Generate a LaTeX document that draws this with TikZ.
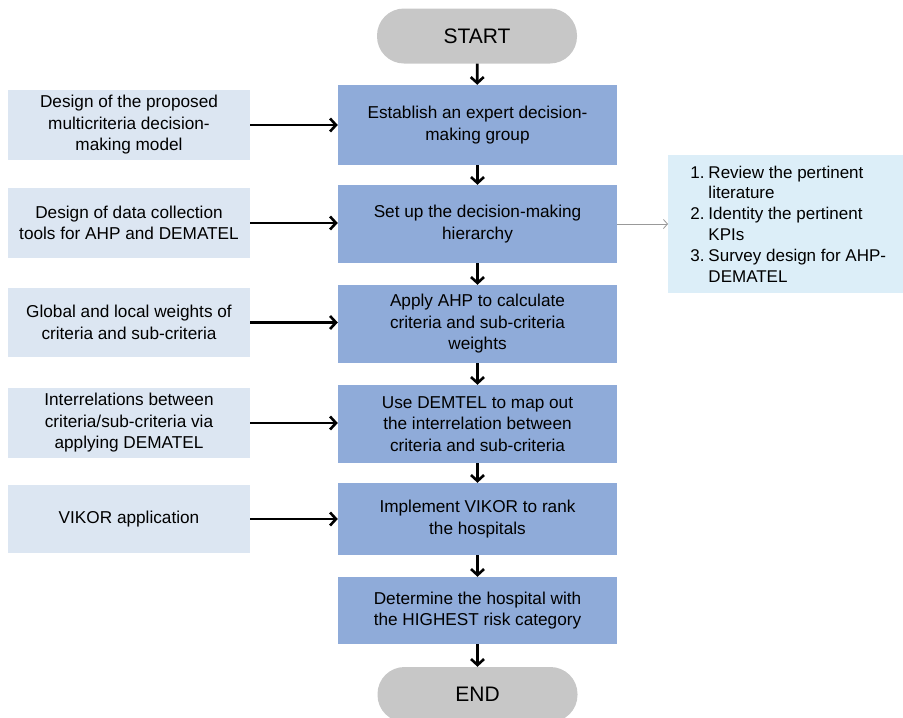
\documentclass[tikz,border=0pt]{standalone}
\usepackage{fontspec}
\setmainfont{Liberation Sans}
\usetikzlibrary{arrows.meta}
\definecolor{mainblue}{HTML}{8FABD9}
\definecolor{leftblue}{HTML}{DCE6F2}
\definecolor{rightblue}{HTML}{DCEEF8}
\definecolor{pillgray}{HTML}{C7C7C7}
\newcommand{\numgap}{\hspace{4pt}}
\begin{document}
\begin{tikzpicture}[x=1pt,y=-1pt,
  font=\fontsize{17.2}{21.5}\selectfont,
  pill/.style={fill=pillgray, draw=none, rounded corners=27pt, minimum width=200pt, minimum height=55pt, font=\fontsize{21}{24}\selectfont},
  mainbox/.style={fill=mainblue, draw=none, minimum width=279pt, align=center},
  leftbox/.style={fill=leftblue, draw=none, minimum width=242pt, align=center},
  rightbox/.style={fill=rightblue, draw=none, minimum width=240pt, minimum height=138pt, inner xsep=14pt, align=left, anchor=west},
  thickarrow/.style={draw=black, line width=2.8pt, -{Straight Barb[length=6pt,width=13pt,line width=2.6pt]}},
  grayarrow/.style={draw=black!40, line width=0.8pt, -{Straight Barb[length=4pt,width=9pt]}}
]
\useasboundingbox (0,0) rectangle (903,718);

\node[pill] (start) at (477,36) {START};
\node[pill] (end) at (477.5,694.5) {END};

\node[mainbox, minimum height=80pt] (m1) at (477.5,125) {Establish an expert decision-\\making group};
\node[mainbox, minimum height=78pt] (m2) at (477.5,224) {Set up the decision-making\\hierarchy};
\node[mainbox, minimum height=78pt] (m3) at (477.5,324) {Apply AHP to calculate\\criteria and sub-criteria\\weights};
\node[mainbox, minimum height=78pt] (m4) at (477.5,424) {Use DEMTEL to map out\\the interrelation between\\criteria and sub-criteria};
\node[mainbox, minimum height=72pt] (m5) at (477.5,519) {Implement VIKOR to rank\\the hospitals};
\node[mainbox, minimum height=67pt] (m6) at (477.5,610.5) {Determine the hospital with\\the HIGHEST risk category};

\node[leftbox, minimum height=70pt] (l1) at (129,125) {Design of the proposed\\multicriteria decision-\\making model};
\node[leftbox, minimum height=70pt] (l2) at (129,223) {Design of data collection\\tools for AHP and DEMATEL};
\node[leftbox, minimum height=69pt] (l3) at (129,322.5) {Global and local weights of\\criteria and sub-criteria};
\node[leftbox, minimum height=70pt] (l4) at (129,423) {Interrelations between\\criteria/sub-criteria via\\applying DEMATEL};
\node[leftbox, minimum height=68pt] (l5) at (129,519) {VIKOR application};

\node[rightbox, font=\fontsize{17}{20.8}\selectfont] (r) at (668,224) {1.\numgap Review the pertinent\\\phantom{1.}\numgap literature\\2.\numgap Identity the pertinent\\\phantom{2.}\numgap KPIs\\3.\numgap Survey design for AHP-\\\phantom{3.}\numgap DEMATEL};

\draw[thickarrow] (start) -- (m1);
\draw[thickarrow] (m1) -- (m2);
\draw[thickarrow] (m2) -- (m3);
\draw[thickarrow] (m3) -- (m4);
\draw[thickarrow] (m4) -- (m5);
\draw[thickarrow] (m5) -- (m6);
\draw[thickarrow] (m6) -- (end);

\draw[thickarrow] (l1.east) -- (l1.east -| m1.west);
\draw[thickarrow] (l2.east) -- (l2.east -| m2.west);
\draw[thickarrow] (l3.east) -- (l3.east -| m3.west);
\draw[thickarrow] (l4.east) -- (l4.east -| m4.west);
\draw[thickarrow] (l5.east) -- (l5.east -| m5.west);

\draw[grayarrow] (m2.east) -- (r.west);
\end{tikzpicture}
\end{document}
